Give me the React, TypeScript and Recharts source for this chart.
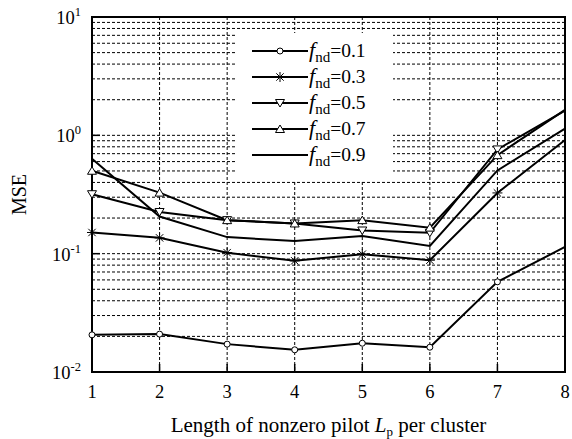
import React from 'react';
import { LineChart, Line, XAxis, YAxis, CartesianGrid, ReferenceLine, ReferenceArea, Legend, Label } from 'recharts';

// pilot length L_p on the x axis
const lengths = [1, 2, 3, 4, 5, 6, 7, 8];

// MSE per f_nd
const mse01 = [0.0206, 0.0209, 0.0172, 0.0154, 0.0175, 0.0162, 0.0578, 0.114];
const mse03 = [0.151, 0.136, 0.102, 0.087, 0.099, 0.088, 0.326, 0.913];
const mse05 = [0.318, 0.225, 0.192, 0.18, 0.157, 0.15, 0.76, 1.62];
const mse07 = [0.502, 0.328, 0.192, 0.18, 0.192, 0.166, 0.68, 1.64];
const mse09 = [0.634, 0.206, 0.138, 0.128, 0.141, 0.116, 0.505, 1.14];

const yTicks = [0.01, 0.1, 1, 10];
const yGrid = [
  0.02, 0.03, 0.04, 0.05, 0.06, 0.07, 0.08, 0.09, 0.1,
  0.2, 0.3, 0.4, 0.5, 0.6, 0.7, 0.8, 0.9, 1,
  2, 3, 4, 5, 6, 7, 8, 9,
];

const series = [
  { key: 'f01', label: '0.1', values: mse01, shape: 'circle' },
  { key: 'f03', label: '0.3', values: mse03, shape: 'star' },
  { key: 'f05', label: '0.5', values: mse05, shape: 'down' },
  { key: 'f07', label: '0.7', values: mse07, shape: 'up' },
  { key: 'f09', label: '0.9', values: mse09, shape: 'none' },
];

const data = lengths.map((L, i) => {
  const row: any = { L };
  series.forEach((s) => (row[s.key] = s.values[i]));
  return row;
});

const FONT = 'Liberation Serif';
const W = 572;
const H = 439;
const MARGIN = { top: 17, right: 7, bottom: 0, left: 0 };

const Marker = ({ shape, cx, cy }: { shape: string; cx: number; cy: number }) => {
  if (shape === 'circle') {
    return <circle cx={cx} cy={cy} r={3} fill="#fff" stroke="#000" strokeWidth={1} />;
  }
  if (shape === 'star') {
    return (
      <g stroke="#000" strokeWidth={1}>
        <line x1={cx - 5} y1={cy} x2={cx + 5} y2={cy} />
        <line x1={cx} y1={cy - 5} x2={cx} y2={cy + 5} />
        <line x1={cx - 3.7} y1={cy - 3.7} x2={cx + 3.7} y2={cy + 3.7} />
        <line x1={cx - 3.7} y1={cy + 3.7} x2={cx + 3.7} y2={cy - 3.7} />
      </g>
    );
  }
  if (shape === 'down') {
    return (
      <polygon
        points={`${cx - 4.5},${cy - 3.5} ${cx + 4.5},${cy - 3.5} ${cx},${cy + 4}`}
        fill="#fff"
        stroke="#000"
        strokeWidth={1}
      />
    );
  }
  if (shape === 'up') {
    return (
      <polygon
        points={`${cx - 4.5},${cy + 3.5} ${cx + 4.5},${cy + 3.5} ${cx},${cy - 4}`}
        fill="#fff"
        stroke="#000"
        strokeWidth={1}
      />
    );
  }
  return null;
};

const makeDot = (shape: string) => (props: any) => {
  const { cx, cy, index } = props;
  // no markers at the right edge
  if (shape === 'none' || index === lengths.length - 1) return <g key={`d-${shape}-${index}`} />;
  return (
    <g key={`d-${shape}-${index}`}>
      <Marker shape={shape} cx={cx} cy={cy} />
    </g>
  );
};

// ticks point inwards, so they are drawn with the labels
const BottomTick = ({ x, y, payload }: any) => (
  <g>
    <rect x={x - 0.75} y={y - 8} width={1.5} height={8} fill="#000" />
    <text x={x} y={y + 26} textAnchor="middle" style={{ fontFamily: FONT }} fontSize={18.5} fill="#000">
      {payload.value}
    </text>
  </g>
);

const LeftTick = ({ x, y, payload }: any) => {
  const exp = Math.round(Math.log10(payload.value));
  return (
    <g>
      <rect x={x} y={y - 0.75} width={8} height={1.5} fill="#000" />
      <text x={x - 11} y={y + 7} textAnchor="end" style={{ fontFamily: FONT }} fontSize={18.5} fill="#000">
        <tspan>10</tspan>
        <tspan dy={-8} fontSize={12.5}>{exp}</tspan>
      </text>
    </g>
  );
};

const XTitle = ({ viewBox }: any) => {
  const cx = viewBox.x + viewBox.width / 2;
  return (
    <text x={cx} y={viewBox.y + 60} textAnchor="middle" style={{ fontFamily: FONT }} fontSize={21} fill="#000">
      <tspan>Length of nonzero pilot </tspan>
      <tspan fontStyle="italic">L</tspan>
      <tspan dy={4} fontSize={13}>p</tspan>
      <tspan dy={-4}> per cluster</tspan>
    </text>
  );
};

const YTitle = ({ viewBox }: any) => {
  const x = viewBox.x + 26;
  const y = viewBox.y + viewBox.height / 2;
  return (
    <text x={x} y={y} transform={`rotate(-90 ${x} ${y})`} textAnchor="middle" style={{ fontFamily: FONT }} fontSize={20} fill="#000">
      MSE
    </text>
  );
};

const LegendBox = () => (
  <svg width={156} height={147} style={{ display: 'block' }}>
    {series.map((s, i) => {
      const y = 18 + i * 26;
      return (
        <g key={s.key}>
          <line x1={15} y1={y} x2={71} y2={y} stroke="#000" strokeWidth={2} />
          <Marker shape={s.shape} cx={43} cy={y} />
          <text x={72} y={y + 6} style={{ fontFamily: FONT }} fontSize={19.5} fill="#000">
            <tspan fontStyle="italic" fontSize={22}>f</tspan>
            <tspan dy={5} fontSize={15}>nd</tspan>
            <tspan dy={-5}>={s.label}</tspan>
          </text>
        </g>
      );
    })}
  </svg>
);

export default function App() {
  return (
    <div style={{ position: 'absolute', left: 0, top: 0, width: W, height: H, background: '#fff' }}>
      <LineChart width={W} height={H} data={data} margin={MARGIN}>
        <CartesianGrid horizontal={false} vertical stroke="#000" strokeWidth={1} strokeDasharray="3 2" />
        <XAxis
          dataKey="L"
          type="number"
          domain={[1, 8]}
          ticks={lengths}
          interval={0}
          height={67}
          tickSize={0}
          tickMargin={0}
          tickLine={false}
          axisLine={{ stroke: '#000', strokeWidth: 2 }}
          tick={BottomTick}
        >
          <Label content={XTitle} />
        </XAxis>
        <YAxis
          type="number"
          scale="log"
          domain={[0.01, 10]}
          allowDataOverflow
          ticks={yTicks}
          interval={0}
          width={92}
          tickSize={0}
          tickMargin={0}
          tickLine={false}
          axisLine={{ stroke: '#000', strokeWidth: 2 }}
          tick={LeftTick}
        >
          <Label content={YTitle} />
        </YAxis>
        {yGrid.map((v) => (
          <ReferenceLine key={`gy-${v}`} y={v} stroke="#000" strokeWidth={1} strokeDasharray="3 2" />
        ))}
        {/* box frame round the plot */}
        <ReferenceArea x1={1} x2={8} y1={0.01} y2={10} fill="none" fillOpacity={0} stroke="#000" strokeWidth={2} />
        {series.map((s) => (
          <Line
            key={s.key}
            dataKey={s.key}
            name={s.label}
            type="linear"
            stroke="#000"
            strokeWidth={2}
            dot={makeDot(s.shape)}
            activeDot={false}
            isAnimationActive={false}
          />
        ))}
        <Legend
          layout="vertical"
          align="center"
          verticalAlign="middle"
          content={LegendBox}
          wrapperStyle={{ left: 237, top: 33, width: 156, height: 147, background: '#fff' }}
        />
      </LineChart>
    </div>
  );
}
